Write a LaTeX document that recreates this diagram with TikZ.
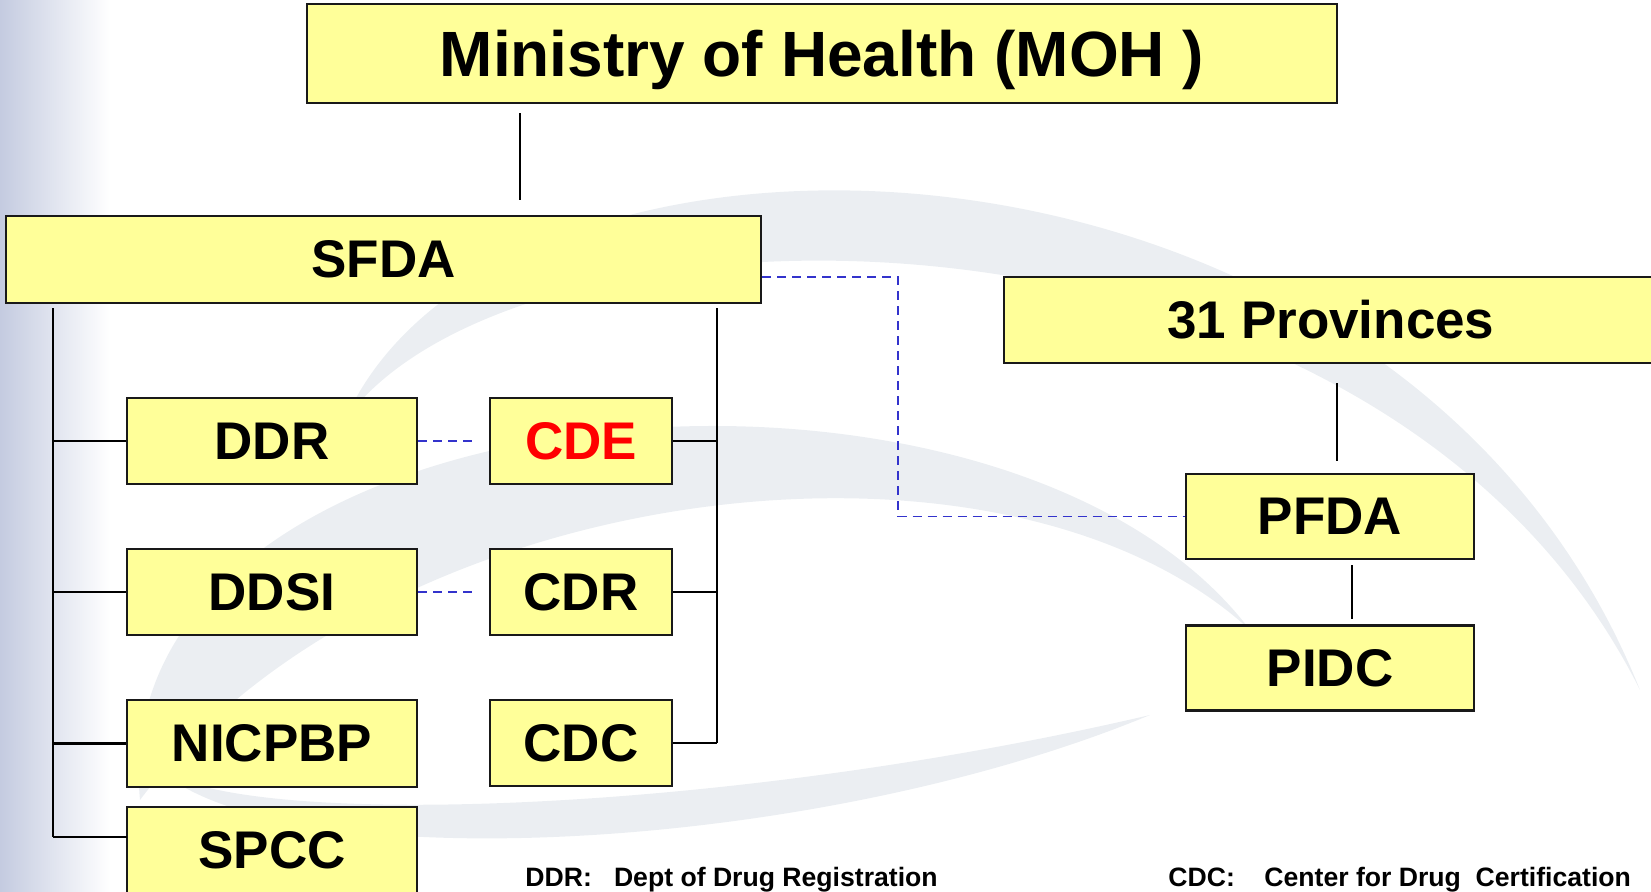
\documentclass[tikz,border=0pt]{standalone}
\usepackage{fontspec}
\setmainfont{Liberation Sans}
\usetikzlibrary{calc}
\definecolor{boxyellow}{RGB}{255,255,153}
\definecolor{dashblue}{RGB}{51,51,204}
\definecolor{swoosh}{RGB}{235,238,242}
\definecolor{edgegray}{RGB}{196,203,224}
\begin{document}
\begin{tikzpicture}[x=0.5pt,y=-0.5pt,
  orgbox/.style={draw=black!90, fill=boxyellow, line width=1.2pt, inner sep=0pt,
    font=\bfseries\fontsize{26.5}{30}\selectfont},
  treeline/.style={line width=1pt, black},
  tieline/.style={line width=1.4pt, black},
  thinline/.style={line width=0.75pt, black},
  bluedash/.style={line width=0.9pt, dashblue, dash pattern=on 4.5pt off 3pt},
  note/.style={font=\bfseries\fontsize{13.3}{15}\selectfont, inner sep=0pt, anchor=base west}]
\useasboundingbox (0,0) rectangle (1651,891);
\clip (0,0) rectangle (1651,891);
% background
\shade[left color=edgegray, right color=white] (0,0) rectangle (110,891);
\fill[swoosh] (345,420) .. controls (500,70) and (1400,90) .. (1640,690)
   .. controls (1380,170) and (520,178) .. (345,420) -- cycle;
\fill[swoosh] (140,800) .. controls (100,380) and (1000,300) .. (1250,630)
   .. controls (1000,400) and (380,480) .. (140,800) -- cycle;
\fill[swoosh] (150,760) .. controls (200,830) and (700,820) .. (1150,715)
   .. controls (800,860) and (250,880) .. (150,760) -- cycle;

% boxes
\node[orgbox, minimum width=515pt, minimum height=49.5pt, text depth=0pt, font=\bfseries\fontsize{32}{36}\selectfont] (moh) at (822,53.5) {Ministry of Health (MOH )};
\node[orgbox, minimum width=377.5pt, minimum height=43.5pt] (sfda) at (383.5,259.5) {SFDA};
\node[orgbox, minimum width=327pt, minimum height=43pt] (prov) at (1331,320) {31 Provinces};
\node[orgbox, minimum width=145pt, minimum height=43pt] (ddr) at (272,441) {DDR};
\node[orgbox, minimum width=145pt, minimum height=43pt] (ddsi) at (272,592) {DDSI};
\node[orgbox, minimum width=145pt, minimum height=43.5pt] (nicpbp) at (272,743.5) {NICPBP};
\node[orgbox, minimum width=145pt, minimum height=43pt] (spcc) at (272,850) {SPCC};
\node[orgbox, minimum width=91pt, minimum height=43pt, text=red] (cde) at (581,441) {CDE};
\node[orgbox, minimum width=91pt, minimum height=43pt] (cdr) at (581,592) {CDR};
\node[orgbox, minimum width=91pt, minimum height=43pt] (cdc) at (581,743) {CDC};
\node[orgbox, minimum width=144pt, minimum height=42.5pt] (pfda) at (1330,516.5) {PFDA};
\node[orgbox, minimum width=144pt, minimum height=42.5pt] (pidc) at (1330,668) {PIDC};

% coordinates for line positions
\coordinate (mx) at (520,0);
\coordinate (lx) at (53,0);
\coordinate (rx) at (717,0);
\coordinate (dx) at (898,0);
\coordinate (px) at (1337,0);
\coordinate (qx) at (1352,0);
\coordinate (spcctie) at (127,837);

% connectors
\draw[thinline, shorten <=4.5pt, shorten >=7.5pt] (moh.south -| mx) -- (sfda.north -| mx);
\draw[treeline, shorten <=2pt] (sfda.south -| lx) -- (spcctie -| lx);
\draw[tieline] (ddr.west) -- (ddr.west -| lx);
\draw[tieline] (ddsi.west) -- (ddsi.west -| lx);
\draw[tieline] (nicpbp.west) -- (nicpbp.west -| lx);
\draw[tieline] (spcctie) -- (spcctie -| lx);
\draw[treeline, shorten <=2pt] (sfda.south -| rx) -- (cdc.east -| rx);
\draw[tieline] (cde.east) -- (cde.east -| rx);
\draw[tieline] (cdr.east) -- (cdr.east -| rx);
\draw[tieline] (cdc.east) -- (cdc.east -| rx);
\draw[bluedash, shorten >=7pt] (ddr.east) -- (cde.west);
\draw[bluedash, shorten >=7pt] (ddsi.east) -- (cdr.west);
\draw[bluedash] ($(sfda.east)+(0,17.5)$) -| (dx |- pfda.west) -- (pfda.west);
\draw[thinline, shorten <=9.5pt, shorten >=6pt] (prov.south -| px) -- (pfda.north -| px);
\draw[thinline, shorten <=2.5pt, shorten >=2.5pt] (pfda.south -| qx) -- (pidc.north -| qx);

% notes
\node[note] (n1) at (525,886) {DDR:\ \ \ Dept of Drug Registration};
\node[note] (n2) at (1168,886) {CDC:\ \ \ \ Center for Drug\ \ Certification};
\end{tikzpicture}
\end{document}
